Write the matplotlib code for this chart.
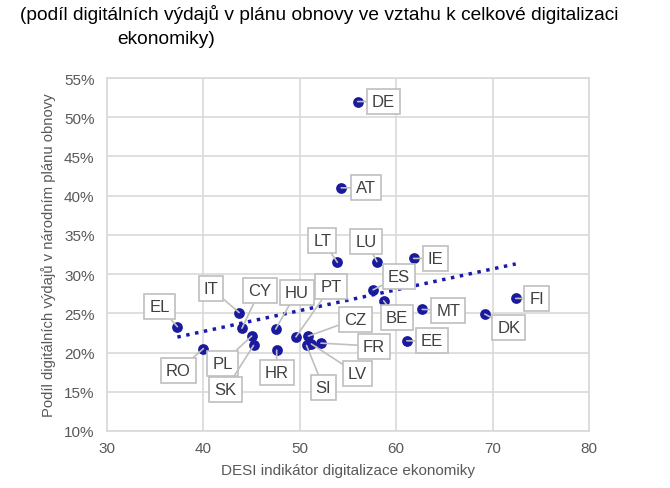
import numpy as np
import matplotlib.pyplot as plt

plt.rcParams['font.family'] = ['Liberation Sans', 'DejaVu Sans']

# DESI index vs share of digital spending in recovery plan
countries = ['DE', 'AT', 'LT', 'LU', 'IE', 'ES', 'BE', 'MT', 'DK', 'FI', 'EE', 'FR',
             'LV', 'SI', 'CZ', 'PT', 'HU', 'CY', 'IT', 'EL', 'RO', 'PL', 'SK', 'HR']
desi = [56.0, 54.3, 53.9, 58.0, 61.8, 57.6, 58.7, 62.7, 69.2, 72.4, 61.1, 52.2,
        51.2, 50.7, 50.9, 49.6, 47.5, 44.0, 43.7, 37.3, 40.0, 45.0, 45.2, 47.6]
share = [52.0, 41.0, 31.5, 31.6, 32.0, 28.0, 26.6, 25.5, 24.9, 26.9, 21.5, 21.2,
         21.1, 20.9, 22.1, 22.0, 23.0, 23.1, 25.1, 23.3, 20.5, 22.1, 20.9, 20.3]

# label offsets in pixels (dx, dy)
offsets = {'DE': (26, 0), 'AT': (25, 0), 'LT': (-15, 22), 'LU': (-11, 20),
           'IE': (22, 0), 'ES': (26, 13), 'BE': (13, -17), 'MT': (26, -1),
           'DK': (24, -13), 'FI': (21, 0), 'EE': (25, 0), 'FR': (53, -3),
           'LV': (46, -30), 'SI': (17, -42), 'CZ': (47, 17), 'PT': (35, 50),
           'HU': (21, 37), 'CY': (18, 38), 'IT': (-28, 24), 'EL': (-18, 20),
           'RO': (-25, -22), 'PL': (-29, -27), 'SK': (-28, -44), 'HR': (0, -22)}

fig = plt.figure(figsize=(6.7, 4.89), dpi=100)
ax = fig.add_axes([0.1597, 0.1166, 0.7194, 0.7218])

ax.scatter(desi, share, s=60, color='#1a1a9e', zorder=3, linewidths=0)

# linear trend
k, q = np.polyfit(desi, share, 1)
xs = np.array([min(desi), max(desi)])
ax.plot(xs, k * xs + q, color='#1a1aae', linewidth=2.5, linestyle=(0, (1, 1.6)), zorder=2)

for c, x, y in zip(countries, desi, share):
    ax.annotate(c, (x, y), xytext=offsets[c], textcoords='offset pixels',
                ha='center', va='center', fontsize=12, color='#404040',
                bbox=dict(boxstyle='square,pad=0.3', fc='white', ec='#bfbfbf', lw=1.2),
                arrowprops=dict(arrowstyle='-', color='#bfbfbf', lw=1.2,
                                shrinkA=0, shrinkB=0),
                zorder=4)

ax.set_xlim(30, 80)
ax.set_ylim(10, 55)
ax.set_xticks(range(30, 81, 10))
ax.set_yticks(range(10, 56, 5))
ax.set_yticklabels([f'{v}%' for v in range(10, 56, 5)])
ax.grid(True, color='#d9d9d9', linewidth=1.2)
ax.set_axisbelow(True)
for s in ax.spines.values():
    s.set_color('#d9d9d9')
    s.set_linewidth(1.2)
ax.tick_params(length=0, labelsize=11, colors='#595959')
ax.tick_params(axis='y', pad=9)
ax.tick_params(axis='x', pad=7)

ax.set_xlabel('DESI indikátor digitalizace ekonomiky', fontsize=11, color='#595959', labelpad=6)
ax.set_ylabel('Podíl digitálních výdajů v národním plánu obnovy', fontsize=10.7, color='#595959', labelpad=6)

# title, second line indented as in the source
fig.text(20 / 670, 1 - 15 / 489, '(podíl digitálních výdajů v plánu obnovy ve vztahu k celkové digitalizaci',
         ha='left', va='center', fontsize=13.8, color='black')
fig.text(117 / 670, 1 - 40 / 489, 'ekonomiky)',
         ha='left', va='center', fontsize=13.8, color='black')

plt.savefig('out.png', dpi=100)
